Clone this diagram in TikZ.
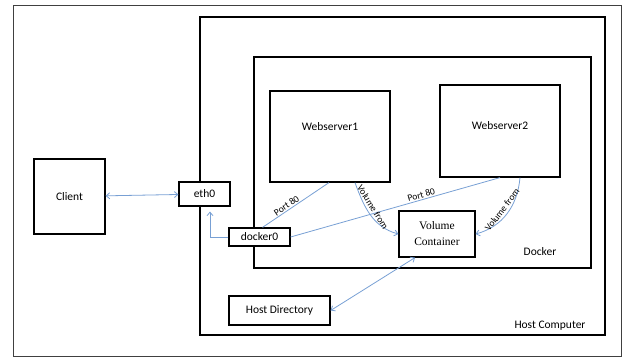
\documentclass[tikz,border=0pt]{standalone}
\usepackage{fontspec}
\setmainfont{Carlito}
\newfontfamily\vcfont{Liberation Serif}
\usetikzlibrary{arrows.meta}
\definecolor{linkblue}{RGB}{120,160,212}
\newcommand{\mainsz}{\fontsize{11.5}{16}\selectfont}
\newcommand{\smallsz}{\fontsize{9.5}{11}\selectfont}

\begin{document}
\begin{tikzpicture}[x=1pt, y=1pt, >={Straight Barb[length=3.5pt, width=6pt]},
        box/.style={draw, line width=1.2pt, fill=white, inner sep=0pt, font=\mainsz},
        frame/.style={draw, line width=1.2pt, inner sep=0pt},
        link/.style={draw=linkblue, line width=0.8pt},
        tag/.style={font=\smallsz, inner sep=1pt, sloped}]
        \useasboundingbox (0,0) rectangle (625,-359);
        \draw[line width=0.8pt, black!75] (13,-5) rectangle (621,-356);

        \node[frame, minimum width=405pt, minimum height=318pt] (host) at (402.5,-176) {};
        \node[frame, minimum width=337pt, minimum height=211pt] (docker) at (422.5,-162.5) {};
        \node[font=\mainsz] (hostlbl) at (550,-326) {Host Computer};
        \node[font=\mainsz] (dockerlbl) at (540,-252) {Docker};

        \node[box, minimum width=71pt, minimum height=75pt] (client) at (69.5,-196.5) {Client};
        \node[box, minimum width=51pt, minimum height=24pt] (eth0) at (204.5,-194) {eth0};
        \node[box, minimum width=61pt, minimum height=18pt] (docker0) at (259.5,-237) {docker0};
        \node[box, minimum width=120pt, minimum height=91pt, label={[font=\mainsz, yshift=10pt]center:Webserver1}] (ws1) at (330,-136.5) {};
        \node[box, minimum width=120pt, minimum height=92pt, label={[font=\mainsz, yshift=5pt]center:Webserver2}] (ws2) at (500,-131) {};
        \node[box, minimum width=76pt, minimum height=46pt, align=center, font=\mainsz\vcfont] (vc) at (437,-234) {Volume\\Container};
        \node[box, minimum width=101pt, minimum height=29pt] (hostdir) at (279.5,-310.5) {Host Directory};

        \draw[link, <->] (client) -- (eth0);
        \draw[link, ->, shorten >=5pt] (docker0.west) -| ([xshift=5.5pt]eth0.south);
        \draw[link] ([xshift=3pt]docker0.north) -- node[tag, above, pos=0.4] {Port 80} ([xshift=-1pt]ws1.south);
        \draw[link] (docker0.east) -- node[tag, above, pos=0.63] {Port 80} (ws2.south);
        \draw[link, ->] ([xshift=25pt]ws1.south) to[out=-70, in=165] node[tag, above=1.5pt, pos=0.42] {Volume from} (vc.west);
        \draw[link, ->] ([xshift=20pt]ws2.south) to[out=-95, in=15] node[tag, above=1.5pt, pos=0.5] {Volume from} (vc.east);
        \draw[link, <->] (hostdir.east) -- ([xshift=-22pt]vc.south);
    \end{tikzpicture}
\end{document}
